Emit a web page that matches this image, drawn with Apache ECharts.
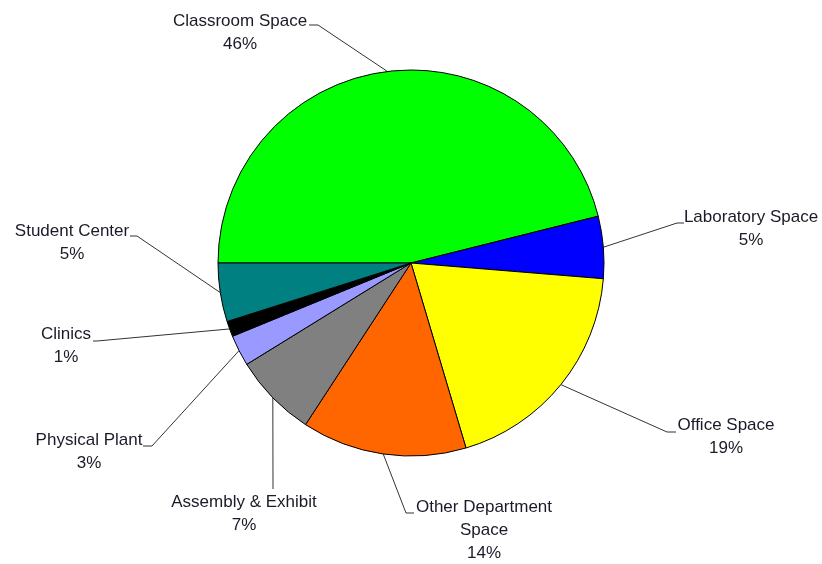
<!DOCTYPE html>
<html>
<head>
<meta charset="utf-8">
<script src="https://cdn.jsdelivr.net/npm/echarts@6/dist/echarts.min.js"></script>
<style>
    html, body { margin: 0; padding: 0; background: #fff; }
    #pie-chart { width: 822px; height: 564px; }
</style>
</head>
<body>
<div id="pie-chart"></div>
<script>
// data
const categories = ['Classroom Space', 'Laboratory Space', 'Office Space', 'Other Department\nSpace',
    'Assembly & Exhibit', 'Physical Plant', 'Clinics', 'Student Center'];
const shareValues = [46.1, 5.2, 19.1, 13.8, 7.0, 2.6, 1.3, 4.9];
const sliceColors = ['#00ff00', '#0000ff', '#ffff00', '#ff6600', '#808080', '#9999ff', '#000000', '#008080'];

// label placement: centre of the text block, then the elbow / end of the leader line
const labelSpots = [
    { x: 240, y: 33, line: [[318, 25], [309, 25]] },
    { x: 751, y: 229, line: [[677, 223], [684, 223]] },
    { x: 726, y: 437, line: [[667, 432], [676, 432]] },
    { x: 484, y: 530, line: [[406, 513], [414, 513]] },
    { x: 244, y: 514, line: [[273, 489]] },
    { x: 89, y: 452, line: [[152, 446], [143, 446]] },
    { x: 66, y: 346, line: [[97, 341], [93, 341]] },
    { x: 72, y: 243, line: [[137, 236], [130, 236]] }
];

let chart = echarts.init(document.getElementById('pie-chart'));

let seriesData = categories.map(function(name, i) {
    return {
        name: name,
        value: shareValues[i],
        itemStyle: { color: sliceColors[i] }
    };
});

let options = {
    animation: false,
    series: [{
        type: 'pie',
        center: [411, 263],
        radius: 193,
        startAngle: 180,
        clockwise: true,
        percentPrecision: 0,
        data: seriesData,
        itemStyle: {
            borderColor: '#000',
            borderWidth: 1
        },
        emphasis: { disabled: true },
        label: {
            show: true,
            formatter: '{b}\n{d}%',
            fontFamily: '"Liberation Sans", Arial, sans-serif',
            fontSize: 17,
            lineHeight: 23,
            color: '#1a1a28',
            align: 'center'
        },
        labelLine: {
            show: true,
            length: 20,
            length2: 10,
            lineStyle: {
                color: '#333',
                width: 1
            }
        },
        labelLayout: function(params) {
            let spot = labelSpots[params.dataIndex];
            let start = params.labelLinePoints[0];
            return {
                x: spot.x,
                y: spot.y,
                align: 'center',
                verticalAlign: 'middle',
                labelLinePoints: [start].concat(spot.line)
            };
        }
    }]
};
chart.setOption(options);
</script>
</body>
</html>
